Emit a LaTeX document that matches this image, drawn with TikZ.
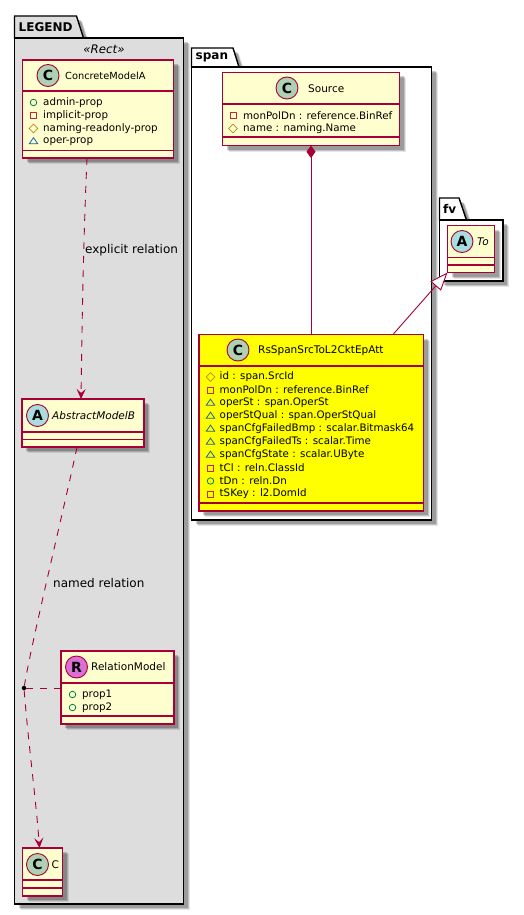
\documentclass[tikz,border=0pt]{standalone}
\usepackage{fontspec}
\setmainfont{DejaVu Sans}
\usetikzlibrary{positioning,calc,arrows.meta,shapes.geometric,shadows}
\definecolor{MBorder}{HTML}{A80036}
\definecolor{MClass}{HTML}{FEFECE}
\definecolor{MLegend}{HTML}{DDDDDD}
\definecolor{MSpot}{HTML}{ADD1B2}
\definecolor{MAbstract}{HTML}{A9DCDF}
\definecolor{MRelation}{HTML}{DA70D6}
\definecolor{MAdmin}{HTML}{038048}
\definecolor{MImplicit}{HTML}{C82930}
\definecolor{MNaming}{HTML}{B38D22}
\definecolor{MOper}{HTML}{1963A0}
\definecolor{MYellow}{HTML}{FFFF00}
\tikzset{
  softshadow/.style={
    drop shadow={shadow xshift=6pt,shadow yshift=-6pt,fill=black,opacity=.1},
    drop shadow={shadow xshift=5pt,shadow yshift=-5pt,fill=black,opacity=.15},
    drop shadow={shadow xshift=4pt,shadow yshift=-4pt,fill=black,opacity=.2}},
  classbox/.style={draw=MBorder,line width=1.25pt,fill=MClass,rectangle,inner sep=0pt,outer sep=0pt,softshadow},
  classline/.style={draw=MBorder,line width=1.25pt},
  pkgbox/.style={draw=black,line width=1.4pt,rectangle,inner sep=0pt,outer sep=0pt,softshadow},
  pkgtab/.style={draw=black,line width=1.4pt,softshadow},
  pkgtitle/.style={font=\fontsize{12}{14}\selectfont\bfseries,anchor=west,inner sep=0pt},
  spot/.style={circle,draw=MBorder,line width=.9pt,minimum size=22pt,inner sep=0pt,font=\fontsize{14}{14}\selectfont\bfseries},
  classname/.style={font=\fontsize{10.5}{12}\selectfont,anchor=west,inner sep=0pt},
  italicname/.style={font=\fontsize{10.5}{12}\selectfont\itshape,anchor=west,inner sep=0pt},
  member/.style={font=\fontsize{10.3}{12}\selectfont,anchor=west,inner sep=0pt},
  rellabel/.style={font=\fontsize{12}{14}\selectfont,inner sep=0pt},
  visadmin/.style={circle,draw=MAdmin,line width=.8pt,minimum size=6.5pt,inner sep=0pt},
  visimplicit/.style={rectangle,draw=MImplicit,line width=.8pt,minimum size=6pt,inner sep=0pt},
  visnaming/.style={diamond,draw=MNaming,line width=.8pt,minimum size=9pt,inner sep=0pt},
  visoper/.style={isosceles triangle,isosceles triangle apex angle=70,shape border rotate=90,draw=MOper,line width=.8pt,minimum height=6pt,inner sep=0pt},
  relline/.style={draw=MBorder,line width=.9pt},
  reldash/.style={relline,dash pattern=on 7pt off 7pt},
  reltip/.style={-{Stealth[length=10pt,width=9pt,inset=4pt]}}
}
\begin{document}
\begin{tikzpicture}[x=1pt,y=-1pt]
  \useasboundingbox (0,0) rectangle (524,915);

  % packages
  \draw[pkgtab,fill=MLegend] (14.5,38) -- (14.5,16) -- (76.5,16) -- (83.5,38) -- cycle;
  \node[pkgbox,fill=MLegend,minimum width=169pt,minimum height=866pt] (legend) at (99,471) {};
  \node[pkgtitle] (legendtitle) at (18.5,27) {LEGEND};
  \draw[pkgtab,fill=white] (191.5,67) -- (191.5,48) -- (233,48) -- (239,67) -- cycle;
  \node[pkgbox,fill=white,minimum width=240pt,minimum height=453pt] (span) at (311.5,293.5) {};
  \node[pkgtitle] (spantitle) at (195.5,57.5) {span};
  \draw[pkgtab,fill=white] (439.5,220) -- (439.5,198) -- (459,198) -- (466.5,220) -- cycle;
  \node[pkgbox,fill=white,minimum width=63.5pt,minimum height=61pt] (fv) at (471.25,250.5) {};
  \node[pkgtitle] (fvtitle) at (443,209) {fv};
  \node[font=\fontsize{11.8}{14}\selectfont\itshape,inner sep=0pt] (stereo) at (104,49.5) {«Rect»};

  % legend classes
  \node[classbox,minimum width=151pt,minimum height=98pt] (concrete) at (98,109) {};
  \draw[classline] (concrete.west |- 0,91) -- (concrete.east |- 0,91);
  \draw[classline] (concrete.west |- 0,150.5) -- (concrete.east |- 0,150.5);
  \node[spot,fill=MSpot] (concretespot) at (48,75.5) {C};
  \node[classname,font=\fontsize{9.8}{12}\selectfont] (concretename) at (65,75.5) {ConcreteModelA};
  \foreach \vis/\txt [count=\i] in {visadmin/admin-prop,visimplicit/implicit-prop,visnaming/naming-readonly-prop,visoper/oper-prop} {
    \node[\vis] (concretevis\i) at (33.5,89.5+13*\i) {};
    \node[member] (concretemem\i) at (43,89.5+13*\i) {\txt};
  }

  \node[classbox,minimum width=122pt,minimum height=48pt] (abstract) at (83,423) {};
  \draw[classline] (abstract.west |- 0,432) -- (abstract.east |- 0,432);
  \draw[classline] (abstract.west |- 0,439.5) -- (abstract.east |- 0,439.5);
  \node[spot,fill=MAbstract] (abstractspot) at (37.5,415.5) {A};
  \node[italicname] (abstractname) at (52,415.5) {AbstractModelB};

  \node[classbox,minimum width=113pt,minimum height=73pt] (relation) at (117.5,687.5) {};
  \draw[classline] (relation.west |- 0,683) -- (relation.east |- 0,683);
  \draw[classline] (relation.west |- 0,716) -- (relation.east |- 0,716);
  \node[spot,fill=MRelation] (relationspot) at (76.5,667) {R};
  \node[classname] (relationname) at (91,667) {RelationModel};
  \foreach \txt [count=\i] in {prop1,prop2} {
    \node[visadmin] (relationvis\i) at (72.5,681.5+13*\i) {};
    \node[member] (relationmem\i) at (82,681.5+13*\i) {\txt};
  }

  \node[classbox,minimum width=40pt,minimum height=48pt] (cclass) at (42.5,872) {};
  \draw[classline] (cclass.west |- 0,880) -- (cclass.east |- 0,880);
  \draw[classline] (cclass.west |- 0,888) -- (cclass.east |- 0,888);
  \node[spot,fill=MSpot] (cclassspot) at (37.5,864.5) {C};
  \node[classname] (cclassname) at (51.5,864.5) {C};

  % span classes
  \node[classbox,minimum width=177pt,minimum height=73pt] (source) at (311,109) {};
  \draw[classline] (source.west |- 0,104) -- (source.east |- 0,104);
  \draw[classline] (source.west |- 0,137) -- (source.east |- 0,137);
  \node[spot,fill=MSpot] (sourcespot) at (287,88) {C};
  \node[classname] (sourcename) at (308,88.5) {Source};
  \foreach \vis/\txt [count=\i] in {visimplicit/monPolDn : reference.BinRef,visnaming/name : naming.Name} {
    \node[\vis] (sourcevis\i) at (233,102.5+13*\i) {};
    \node[member] (sourcemem\i) at (243,102.5+13*\i) {\txt};
  }

  \node[classbox,fill=MYellow,minimum width=224.5pt,minimum height=176.5pt] (rsspan) at (311.25,422.75) {};
  \draw[classline] (rsspan.west |- 0,366) -- (rsspan.east |- 0,366);
  \draw[classline] (rsspan.west |- 0,503) -- (rsspan.east |- 0,503);
  \node[spot,fill=MSpot] (rsspanspot) at (238,350) {C};
  \node[classname] (rsspanname) at (258,350.5) {RsSpanSrcToL2CktEpAtt};
  \foreach \vis/\txt [count=\i] in {visnaming/id : span.SrcId,visimplicit/monPolDn : reference.BinRef,visoper/operSt : span.OperSt,visoper/operStQual : span.OperStQual,visoper/spanCfgFailedBmp : scalar.Bitmask64,visoper/spanCfgFailedTs : scalar.Time,visoper/spanCfgState : scalar.UByte,visimplicit/tCl : reln.ClassId,visadmin/tDn : reln.Dn,visimplicit/tSKey : l2.DomId} {
    \node[\vis] (rsspanvis\i) at (210.5,364+13*\i) {};
    \node[member] (rsspanmem\i) at (219.5,364+13*\i) {\txt};
  }

  % fv class
  \node[classbox,minimum width=47pt,minimum height=47pt] (to) at (471,249) {};
  \draw[classline] (to.west |- 0,257.5) -- (to.east |- 0,257.5);
  \draw[classline] (to.west |- 0,265) -- (to.east |- 0,265);
  \node[spot,fill=MAbstract] (tospot) at (462,241.5) {A};
  \node[italicname] (toname) at (477,241.5) {To};

  % relations
  \node[circle,fill=black,minimum size=4.5pt,inner sep=0pt] (reldot) at (24,688) {};
  \draw[reldash,reltip] ([xshift=-11pt]concrete.south) .. controls (83,250) and (82,330) .. ([xshift=-2pt]abstract.north);
  \node[rellabel,anchor=west] (explicitlabel) at (85,250) {explicit relation};
  \draw[reldash] ([xshift=-6pt]abstract.south) .. controls (66,500) and (32,640) .. (reldot);
  \node[rellabel,anchor=west] (namedlabel) at (53,583) {named relation};
  \draw[reldash,reltip] (reldot) .. controls (28,740) and (36,800) .. ([xshift=-3pt]cclass.north);
  \draw[reldash] (reldot) -- (relation.west |- reldot);
  \draw[relline,{Diamond[length=12.5pt,width=9pt]}-] (source.south) -- (source.south |- rsspan.north);
  \draw[relline,-{Triangle[open,length=18pt,width=14pt,fill=white]}] ([xshift=81.75pt]rsspan.north) -- (to.south west);
\end{tikzpicture}
\end{document}
